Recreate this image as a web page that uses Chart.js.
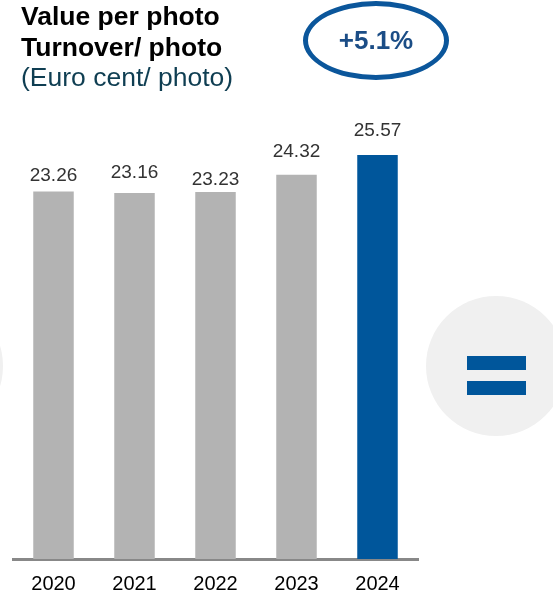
<!DOCTYPE html>
<html>
<head>
<meta charset="utf-8">
<script src="https://cdn.jsdelivr.net/npm/chart.js@4/dist/chart.umd.min.js"></script>
<style>
  html, body { margin: 0; padding: 0; background: #fff; }
  #wrap { position: relative; width: 553px; height: 597px; overflow: hidden; font-family: "Liberation Sans", Arial, sans-serif; }
  #chart { position: absolute; left: 0; top: 0; }
  .circle { position: absolute; border-radius: 50%; background: #f0f0f0; }
  #title { position: absolute; left: 21px; top: 1px; font-size: 26.5px; line-height: 30.5px; color: #000; white-space: nowrap; }
  #title b { font-weight: bold; }
  #title .unit { color: #0f3e52; }
  #badge { position: absolute; left: 303px; top: 1px; width: 136px; height: 69px; border: 5px solid #0b569b; border-radius: 50%; display: flex; align-items: center; justify-content: center; color: #1b4d86; font-weight: bold; font-size: 26px; }
  .eq { position: absolute; left: 467px; width: 59px; height: 14px; background: #00569b; }
</style>
</head>
<body>
<div id="wrap">
  <div class="circle" style="left:-137px; top:296px; width:140px; height:140px;"></div>
  <div class="circle" style="left:426px; top:296px; width:140px; height:140px;"></div>
  <div class="eq" style="top:356px;"></div>
  <div class="eq" style="top:381px;"></div>
  <canvas id="chart" width="553" height="613"></canvas>
  <div id="title"><b>Value per photo</b><br><b>Turnover/ photo</b><br><span class="unit">(Euro cent/ photo)</span></div>
  <div id="badge">+5.1%</div>
</div>
<script>
const categories = ["2020", "2021", "2022", "2023", "2024"];
const values = [23.26, 23.16, 23.23, 24.32, 25.57];
const barColors = ["#b3b3b3", "#b3b3b3", "#b3b3b3", "#b3b3b3", "#00569b"];

const valueLabels = {
  id: "valueLabels",
  afterDatasetsDraw(chart, args, opts) {
    const ctx = chart.ctx;
    const meta = chart.getDatasetMeta(0);
    const gaps = opts.gaps || [];
    ctx.save();
    ctx.font = '19px "Liberation Sans", Arial, sans-serif';
    ctx.fillStyle = "#333333";
    ctx.textAlign = "center";
    ctx.textBaseline = "alphabetic";
    meta.data.forEach((bar, i) => {
      ctx.fillText(values[i].toFixed(2), bar.x, bar.y - (gaps[i] ?? 10));
    });
    ctx.restore();
  }
};

new Chart(document.getElementById("chart"), {
  type: "bar",
  data: {
    labels: categories,
    datasets: [{
      data: values,
      backgroundColor: barColors,
      borderWidth: 0,
      barPercentage: 0.5,
      categoryPercentage: 1.0
    }]
  },
  options: {
    responsive: false,
    animation: false,
    events: [],
    layout: { padding: { left: 13, right: 135, top: 85, bottom: 4 } },
    plugins: {
      legend: { display: false },
      tooltip: { enabled: false },
      valueLabels: { gaps: [10, 15, 7, 18, 19] }
    },
    scales: {
      x: {
        grid: { display: false, drawTicks: false },
        border: { display: true, color: "#888888", width: 3 },
        ticks: {
          color: "#000000",
          padding: 13,
          font: { family: '"Liberation Sans", Arial, sans-serif', size: 20 }
        }
      },
      y: {
        display: false,
        min: 0,
        max: 30
      }
    }
  },
  plugins: [valueLabels]
});
</script>
</body>
</html>
